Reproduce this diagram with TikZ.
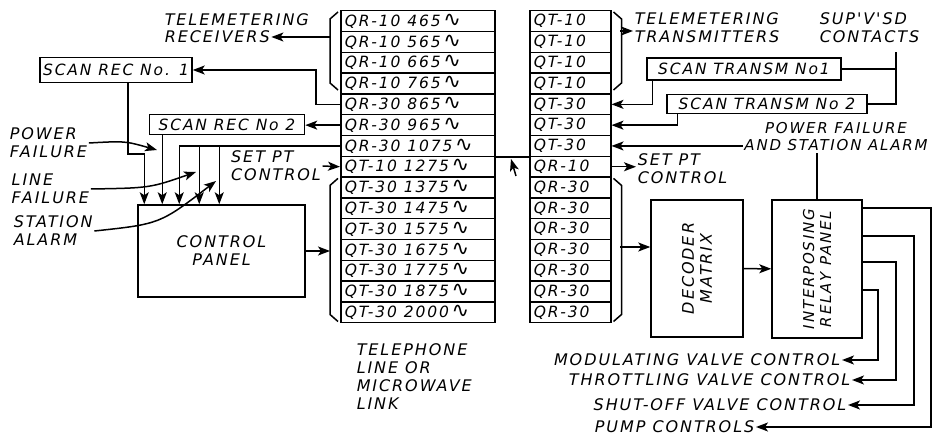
\documentclass[tikz,border=0pt]{standalone}
\usepackage{fontspec}
\usepackage{tikz}
\usetikzlibrary{arrows.meta}
\newfontfamily\handfont{DejaVu Sans Oblique}[LetterSpace=12]
\newfontfamily\symfont{DejaVu Sans}
\newcommand{\cps}{{\symfont\fontsize{21}{17}\selectfont ∿}}
\newcommand{\lblfont}{\handfont\fontsize{16}{18}\selectfont}
\newcommand{\rowfont}{\handfont\fontsize{15.5}{17}\selectfont}
\tikzset{
	chanrow/.style={draw, minimum height=20.8pt, inner xsep=4pt, inner ysep=0pt, anchor=north west, align=left, font=\rowfont},
	rxrow/.style={chanrow, text width=146pt},
	txrow/.style={chanrow, text width=73pt},
	scanbox/.style={draw, minimum height=21pt, inner xsep=3pt, inner ysep=1pt, font=\rowfont},
	panelbox/.style={draw, align=center, font=\lblfont},
	lbl/.style={align=left, inner sep=1pt, font=\lblfont},
	sigarr/.style={-{Stealth[length=12pt,width=9pt,inset=3pt]}},
}

\begin{document}
\begin{tikzpicture}[x=1pt, y=-1pt, line width=1.5pt]
	\useasboundingbox (0,0) rectangle (943,438);
	% channel stacks
	\foreach \ch/\fq [count=\i from 0] in {QR-10/465,QR-10/565,QR-10/665,QR-10/765,QR-30/865,QR-30/965,QR-30/1075,QT-10/1275,QT-30/1375,QT-30/1475,QT-30/1575,QT-30/1675,QT-30/1775,QT-30/1875,QT-30/2000}
		\node[rxrow] (l\i) at (340,{10+20.8*\i}) {\ch\hspace{7pt}\fq\,\cps};
	\foreach \ch [count=\i from 0] in {QT-10,QT-10,QT-10,QT-10,QT-30,QT-30,QT-30,QR-10,QR-30,QR-30,QR-30,QR-30,QR-30,QR-30,QR-30}
		\node[txrow] (r\i) at (529,{10+20.8*\i}) {\ch};
	% brackets
	\draw ([shift={(-2,2)}]l0.north west) -- ++(-8,7) -- ++(0,64) -- ++(8,7);
	\draw ([shift={(-2,2)}]l8.north west) -- ++(-8,7) -- ([shift={(-10,-9)}]l14.south west) -- ([shift={(-2,-2)}]l14.south west);
	\draw ([shift={(2,2)}]r0.north east) -- ++(8,7) -- ++(0,64) -- ++(-8,7);
	\draw ([shift={(2,2)}]r8.north east) -- ++(8,7) -- ([shift={(10,-9)}]r14.south east) -- ([shift={(2,-2)}]r14.south east);
	\coordinate (lbA) at (330,37);
	\coordinate (lbB) at (330,250);
	\coordinate (rbA) at (620,31);
	\coordinate (rbB) at (620,247);
	% link
	\draw (l6.south east) -- (l6.south east -| r7.west);
	\coordinate (lnk) at (511,159);
	\draw[sigarr] ([shift={(5,17)}]lnk) -- (lnk);
	\node[lbl, anchor=north west] (tel) at (355,342) {TELEPHONE\\LINE OR\\MICROWAVE\\LINK};

	% receiving end
	\node[lbl, anchor=west] (tmrx) at (163,20) {TELEMETERING};
	\node[lbl, anchor=north west] (rcvr) at ([yshift=-1pt]tmrx.south west) {RECEIVERS};
	\draw[sigarr] (lbA) -- (lbA -| rcvr.east);
	\node[scanbox, minimum width=152pt, minimum height=25pt] (sr1) at (116,70) {SCAN REC No. 1};
	\node[scanbox, minimum width=155pt, minimum height=20pt] (sr2) at (227,124.4) {SCAN REC No 2};
	\draw[sigarr] (l4.west) -- ++(-24,0) |- (sr1.east);
	\draw[sigarr] (l5.west) -- (l5.west -| sr2.east);
	\node[panelbox, minimum width=167pt, minimum height=92pt] (cp) at (221.5,251) {CONTROL\\PANEL};
	\draw[sigarr] (cp.east) -- (cp.east -| lbB);
	\coordinate (in1) at ([xshift=7pt]cp.north west);
	\coordinate (in2) at ([xshift=25pt]cp.north west);
	\coordinate (in3) at ([xshift=42pt]cp.north west);
	\coordinate (in4) at ([xshift=62pt]cp.north west);
	\coordinate (in5) at ([xshift=82pt]cp.north west);
	\draw[sigarr] ([xshift=12pt]sr1.south) |- ([yshift=50pt]in1) -- (in1);
	\draw[sigarr] (sr2.south -| in2) -- (in2);
	\draw[sigarr] (l6.west) -| (in3);
	\draw[sigarr] (l6.west -| in4) -- (in4);
	\draw[sigarr] (l6.west -| in5) -- (in5);
	\node[lbl] (spt1) at (276,166) {SET PT\\CONTROL};
	\draw[sigarr] (spt1.east) -- (l7.west);
	% alarm inputs
	\node[lbl, anchor=west] (pwr) at (8,143) {POWER\\FAILURE};
	\node[lbl, anchor=west] (lnf) at (10,189) {LINE\\FAILURE};
	\node[lbl, anchor=west] (sta) at (12,231) {STATION\\ALARM};
	\coordinate (pfTip) at (157,150);
	\coordinate (lfTip) at (196,172);
	\coordinate (saTip) at (216,181);
	\draw[sigarr] (pwr.east) .. controls (125,141) .. (pfTip);
	\draw[sigarr] (lnf.east) .. controls (150,188) .. (lfTip);
	\draw[sigarr] (sta.east) .. controls (160,224) .. (saTip);

	% transmitting end
	\node[lbl, anchor=west] (tmtx) at (633,28) {TELEMETERING\\TRANSMITTERS};
	\draw[sigarr] (rbA) -- (rbA -| tmtx.west);
	\node[lbl, anchor=west] (sup) at (818,28) {SUP'V'SD\\CONTACTS};
	\node[scanbox, minimum width=194pt, minimum height=22pt] (st1) at (744,69) {SCAN TRANSM No1};
	\node[scanbox, minimum width=200pt, minimum height=19pt] (st2) at (767,104) {SCAN TRANSM No 2};
	\coordinate (supv) at (896,52);
	\draw (st2.east) -| (supv);
	\draw (st1.east) -- (st1.east -| supv);
	\draw[sigarr] ([xshift=6pt]st1.south west) |- (r4.east);
	\draw[sigarr] ([xshift=11pt]st2.south west) |- (r5.east);
	\node[lbl, align=center, font=\handfont\fontsize{15}{17}\selectfont] (pfsa) at (836,137) {POWER FAILURE\\AND STATION ALARM};
	\draw[sigarr] (r6.east -| pfsa.west) -- (r6.east);
	\node[lbl, anchor=west] (spt2) at (636,169) {SET PT\\CONTROL};
	\draw[sigarr] (r7.east) -- (r7.east -| spt2.west);
	\node[panelbox, minimum width=92pt, minimum height=137pt] (dec) at (697,268.5) {};
	\node[lbl, align=center, rotate=90] (dect) at (dec) {DECODER\\MATRIX};
	\node[panelbox, minimum width=90pt, minimum height=138pt] (irp) at (817,269) {};
	\node[lbl, align=center, rotate=90, font=\handfont\fontsize{15}{17}\selectfont] (irpt) at (irp) {INTERPOSING\\RELAY PANEL};
	\draw[sigarr] (rbB) -- (rbB -| dec.west);
	\draw[sigarr] (dec) -- (irp);
	\draw (irp.north) -- (irp.north |- pfsa.south);
	% control outputs
	\node[lbl, anchor=east] (modu) at (842,360) {MODULATING VALVE CONTROL};
	\node[lbl, anchor=east] (throt) at (852,380) {THROTTLING VALVE CONTROL};
	\node[lbl, anchor=east] (shut) at (848,405) {SHUT-OFF VALVE CONTROL};
	\node[lbl, anchor=east] (pump) at (756,427) {PUMP CONTROLS};
	\draw[sigarr] ([yshift=-9pt]irp.north east) -- ++(68,0) |- (pump.east);
	\draw[sigarr] ([yshift=-37pt]irp.north east) -- ++(51,0) |- (shut.east);
	\draw[sigarr] ([yshift=-63pt]irp.north east) -- ++(33,0) |- (throt.east);
	\draw[sigarr] ([yshift=-91pt]irp.north east) -- ++(15,0) |- (modu.east);
\end{tikzpicture}
\end{document}
